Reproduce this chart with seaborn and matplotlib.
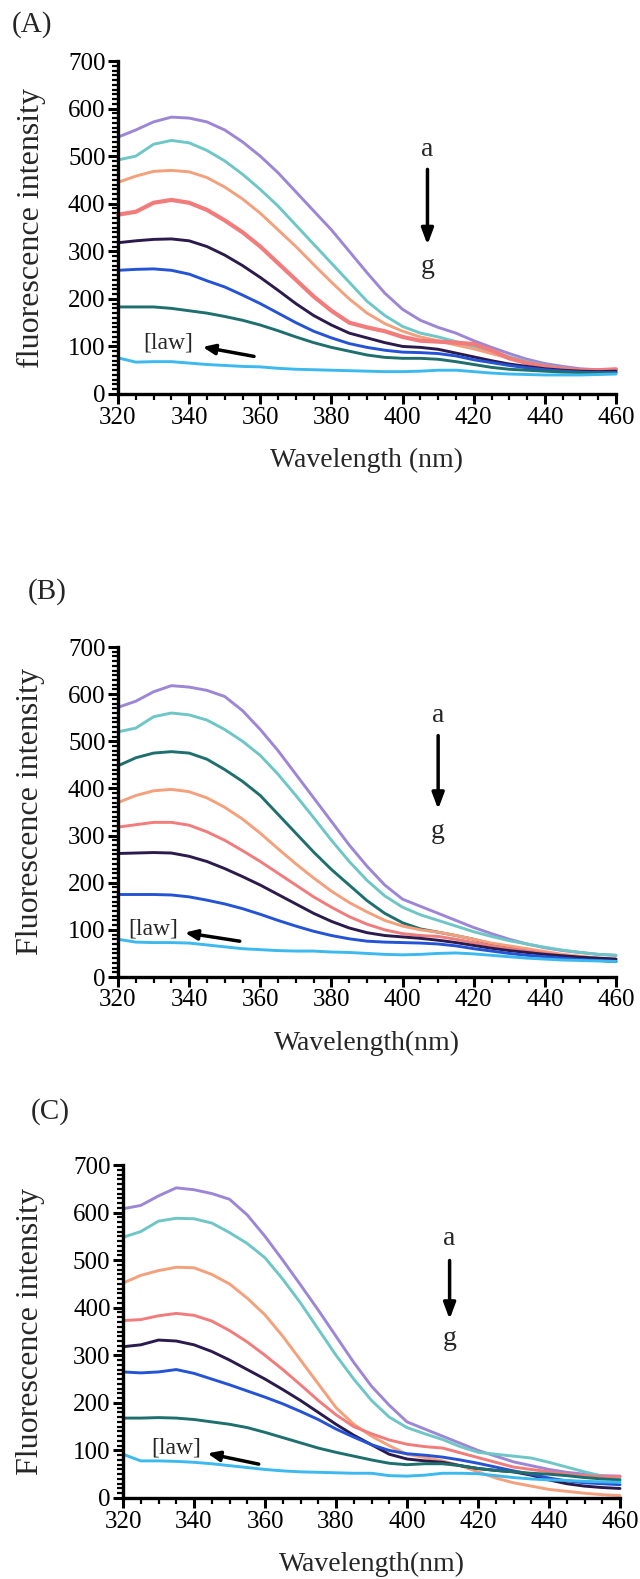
import numpy as np
import pandas as pd
import matplotlib.pyplot as plt
import seaborn as sns
from matplotlib.ticker import MultipleLocator

# wavelength grid (nm)
wavelength = list(range(320, 461, 5))

# ---- panel A ----
A_purple = [540, 555, 572, 582, 580, 572, 555, 530, 500, 465, 425, 385, 345, 300, 255, 212, 178, 155, 140, 128, 112, 98, 85, 73, 64, 58, 53, 51, 50]
A_teal = [492, 500, 525, 533, 528, 512, 490, 462, 430, 395, 355, 315, 275, 235, 195, 165, 142, 128, 120, 110, 100, 90, 78, 68, 60, 55, 50, 48, 47]
A_orange = [445, 458, 468, 470, 467, 455, 435, 410, 380, 345, 310, 272, 235, 200, 170, 148, 132, 120, 112, 103, 95, 85, 75, 66, 58, 53, 50, 48, 47]
A_red = [377, 383, 402, 408, 402, 387, 365, 340, 310, 275, 240, 205, 175, 150, 140, 132, 120, 112, 110, 108, 105, 92, 75, 65, 58, 53, 50, 50, 52]
A_navy = [318, 322, 325, 326, 322, 310, 292, 270, 245, 218, 190, 165, 145, 128, 118, 108, 100, 98, 94, 86, 78, 70, 63, 58, 53, 50, 48, 47, 48]
A_blue = [260, 262, 263, 260, 252, 238, 225, 208, 190, 170, 150, 132, 118, 106, 98, 92, 88, 87, 85, 80, 72, 66, 60, 55, 51, 48, 46, 45, 45]
A_dteal = [183, 183, 183, 180, 175, 170, 163, 155, 145, 133, 120, 108, 98, 90, 82, 77, 75, 75, 73, 68, 62, 56, 52, 50, 48, 46, 45, 44, 44]
A_cyan = [76, 67, 68, 68, 65, 62, 60, 58, 57, 54, 52, 51, 50, 49, 48, 47, 47, 48, 50, 50, 47, 44, 42, 41, 40, 40, 40, 41, 42]

# ---- panel B ----
B_purple = [572, 585, 605, 618, 615, 608, 595, 565, 525, 480, 430, 380, 330, 280, 235, 195, 165, 150, 135, 120, 105, 92, 80, 70, 62, 56, 52, 48, 46]
B_teal = [520, 528, 552, 560, 556, 545, 525, 500, 470, 430, 385, 338, 290, 245, 205, 172, 148, 132, 120, 108, 96, 86, 77, 70, 63, 57, 52, 48, 46]
B_dteal = [448, 465, 475, 478, 475, 462, 440, 415, 385, 345, 305, 265, 228, 195, 162, 135, 115, 102, 95, 88, 80, 70, 62, 55, 50, 45, 40, 36, 33]
B_orange = [370, 385, 395, 398, 393, 380, 360, 335, 305, 272, 240, 210, 182, 158, 138, 120, 108, 100, 95, 88, 80, 72, 66, 60, 54, 48, 44, 40, 38]
B_red = [318, 323, 328, 328, 322, 308, 290, 268, 245, 220, 195, 170, 148, 128, 112, 100, 92, 88, 86, 80, 73, 66, 60, 55, 50, 45, 41, 38, 36]
B_navy = [262, 263, 264, 263, 256, 245, 230, 213, 195, 175, 155, 135, 118, 104, 94, 88, 85, 82, 78, 73, 67, 61, 56, 52, 48, 45, 42, 40, 38]
B_blue = [175, 175, 175, 174, 170, 163, 155, 145, 133, 120, 108, 97, 88, 81, 76, 74, 73, 72, 70, 66, 60, 55, 50, 46, 43, 40, 37, 35, 33]
B_cyan = [80, 74, 73, 73, 72, 68, 64, 60, 58, 56, 55, 55, 53, 52, 50, 48, 47, 48, 50, 51, 49, 46, 43, 40, 38, 36, 35, 34, 33]

# ---- panel C ----
C_purple = [608, 615, 635, 652, 648, 640, 628, 595, 550, 500, 448, 395, 340, 285, 235, 195, 160, 145, 130, 115, 100, 88, 76, 68, 60, 54, 50, 47, 46]
C_teal = [548, 560, 582, 588, 587, 578, 558, 535, 505, 460, 410, 355, 300, 250, 205, 170, 148, 135, 123, 108, 96, 92, 88, 84, 75, 65, 55, 46, 42]
C_orange = [452, 468, 478, 485, 484, 470, 450, 420, 385, 340, 290, 240, 190, 155, 130, 110, 92, 85, 78, 68, 55, 42, 32, 25, 18, 14, 10, 7, 5]
C_red = [373, 375, 383, 388, 384, 372, 352, 328, 300, 270, 238, 205, 175, 150, 135, 122, 113, 108, 105, 95, 85, 75, 65, 60, 55, 50, 47, 45, 45]
C_navy = [318, 322, 332, 330, 322, 308, 290, 270, 250, 228, 205, 180, 155, 132, 112, 92, 82, 78, 75, 68, 62, 58, 55, 48, 38, 30, 25, 22, 20]
C_blue = [265, 263, 265, 270, 262, 250, 238, 225, 212, 198, 182, 165, 145, 128, 112, 100, 93, 90, 86, 80, 73, 65, 57, 50, 42, 36, 32, 30, 28]
C_dteal = [168, 168, 169, 168, 165, 160, 155, 148, 138, 127, 116, 105, 96, 88, 80, 73, 70, 72, 72, 68, 62, 58, 55, 52, 50, 47, 43, 40, 38]
C_cyan = [92, 78, 78, 77, 75, 72, 68, 64, 60, 57, 55, 54, 53, 52, 52, 47, 46, 48, 52, 52, 51, 47, 43, 40, 38, 37, 35, 34, 33]

colors = {
    "purple": "#9d86d6",
    "teal": "#6fc6c6",
    "orange": "#f4a07c",
    "red": "#f27b7b",
    "navy": "#2b1b4d",
    "blue": "#2553d6",
    "dteal": "#1f6f6f",
    "cyan": "#3cb9ee",
}

panels = [
    {
        "tag": "(A)", "ylabel": "fluorescence intensity", "xlabel": "Wavelength (nm)",
        "series": {"purple": A_purple, "teal": A_teal, "orange": A_orange, "red": A_red,
                   "navy": A_navy, "blue": A_blue, "dteal": A_dteal, "cyan": A_cyan},
        "rect": [118, 61, 616, 394], "tagxy": (32, 25),
        "a": (407, 515), "arrow": (478, 308), "g": 268,
        "law": (334, 107), "law_arrow": ((359, 78), (343, 100)),
    },
    {
        "tag": "(B)", "ylabel": "Fluorescence intensity", "xlabel": "Wavelength(nm)",
        "series": {"purple": B_purple, "teal": B_teal, "dteal": B_dteal, "orange": B_orange,
                   "red": B_red, "navy": B_navy, "blue": B_blue, "cyan": B_cyan},
        "rect": [118, 647, 616, 977], "tagxy": (47, 592),
        "a": (410, 555), "arrow": (518, 350), "g": 308,
        "law": (330, 102), "law_arrow": ((355, 75), (338, 95)),
    },
    {
        "tag": "(C)", "ylabel": "Fluorescence intensity", "xlabel": "Wavelength(nm)",
        "series": {"purple": C_purple, "teal": C_teal, "orange": C_orange, "red": C_red,
                   "navy": C_navy, "blue": C_blue, "dteal": C_dteal, "cyan": C_cyan},
        "rect": [123, 1165, 620, 1498], "tagxy": (50, 1112),
        "a": (412, 545), "arrow": (505, 370), "g": 335,
        "law": (335, 106), "law_arrow": ((359, 70), (343, 95)),
    },
]

sns.set_theme(style="ticks")
plt.rcParams["font.family"] = ["Liberation Serif", "DejaVu Serif"]

W, H = 640, 1579
fig = plt.figure(figsize=(W / 100, H / 100), dpi=100)

for p in panels:
    x0, y0, x1, y1 = p["rect"]
    ax = fig.add_axes([x0 / W, 1 - y1 / H, (x1 - x0) / W, (y1 - y0) / H])

    rows = []
    for name, vals in p["series"].items():
        for wl, v in zip(wavelength, vals):
            rows.append({"wl": wl, "val": v, "curve": name})
    df = pd.DataFrame(rows)
    sns.lineplot(data=df, x="wl", y="val", hue="curve", palette=colors,
                 hue_order=list(p["series"].keys()), linewidth=2.1,
                 legend=False, ax=ax, clip_on=False)
    if p["tag"] == "(A)":
        ax.lines[3].set_linewidth(3.0)

    ax.set_xlim(320, 460)
    ax.set_ylim(0, 700)
    ax.xaxis.set_major_locator(MultipleLocator(20))
    ax.xaxis.set_minor_locator(MultipleLocator(5))
    ax.yaxis.set_major_locator(MultipleLocator(100))
    ax.yaxis.set_minor_locator(MultipleLocator(10))
    sns.despine(ax=ax)
    for s in ["left", "bottom"]:
        ax.spines[s].set_linewidth(2.4)
        ax.spines[s].set_color("black")
    ax.tick_params(which="major", length=7, width=2.2, direction="out",
                   labelsize=18, colors="black", pad=2)
    ax.tick_params(which="minor", length=4, width=1.6, direction="out", colors="black")
    ax.set_xlabel("")
    ax.set_ylabel("")

    # axis titles
    fig.text(31 / W, 1 - (y0 + y1) / 2 / H, p["ylabel"], rotation=90,
             ha="center", va="center", fontsize=23)
    fig.text((x0 + x1) / 2 / W, 1 - (y1 + 66) / H, p["xlabel"],
             ha="center", va="center", fontsize=20)
    fig.text(p["tagxy"][0] / W, 1 - p["tagxy"][1] / H, p["tag"],
             ha="center", va="center", fontsize=21)

    # a -> g
    ax_x, a_y = p["a"]
    ax.text(ax_x, a_y, "a", ha="center", va="center", fontsize=20)
    ax.annotate("", xy=(ax_x, p["arrow"][1]), xytext=(ax_x, p["arrow"][0]),
                arrowprops=dict(arrowstyle="-|>,head_length=0.8,head_width=0.3",
                                color="black", lw=2.5))
    ax.text(ax_x, p["g"], "g", ha="center", va="center", fontsize=20)

    # [law] arrow
    lx, ly = p["law"]
    ax.text(lx, ly, "[law]", ha="center", va="center", fontsize=17)
    (tx, ty), (hx, hy) = p["law_arrow"]
    ax.annotate("", xy=(hx, hy), xytext=(tx, ty),
                arrowprops=dict(arrowstyle="-|>,head_length=0.6,head_width=0.25",
                                color="black", lw=2.5))

fig.savefig("out.png", dpi=100, facecolor="white")
